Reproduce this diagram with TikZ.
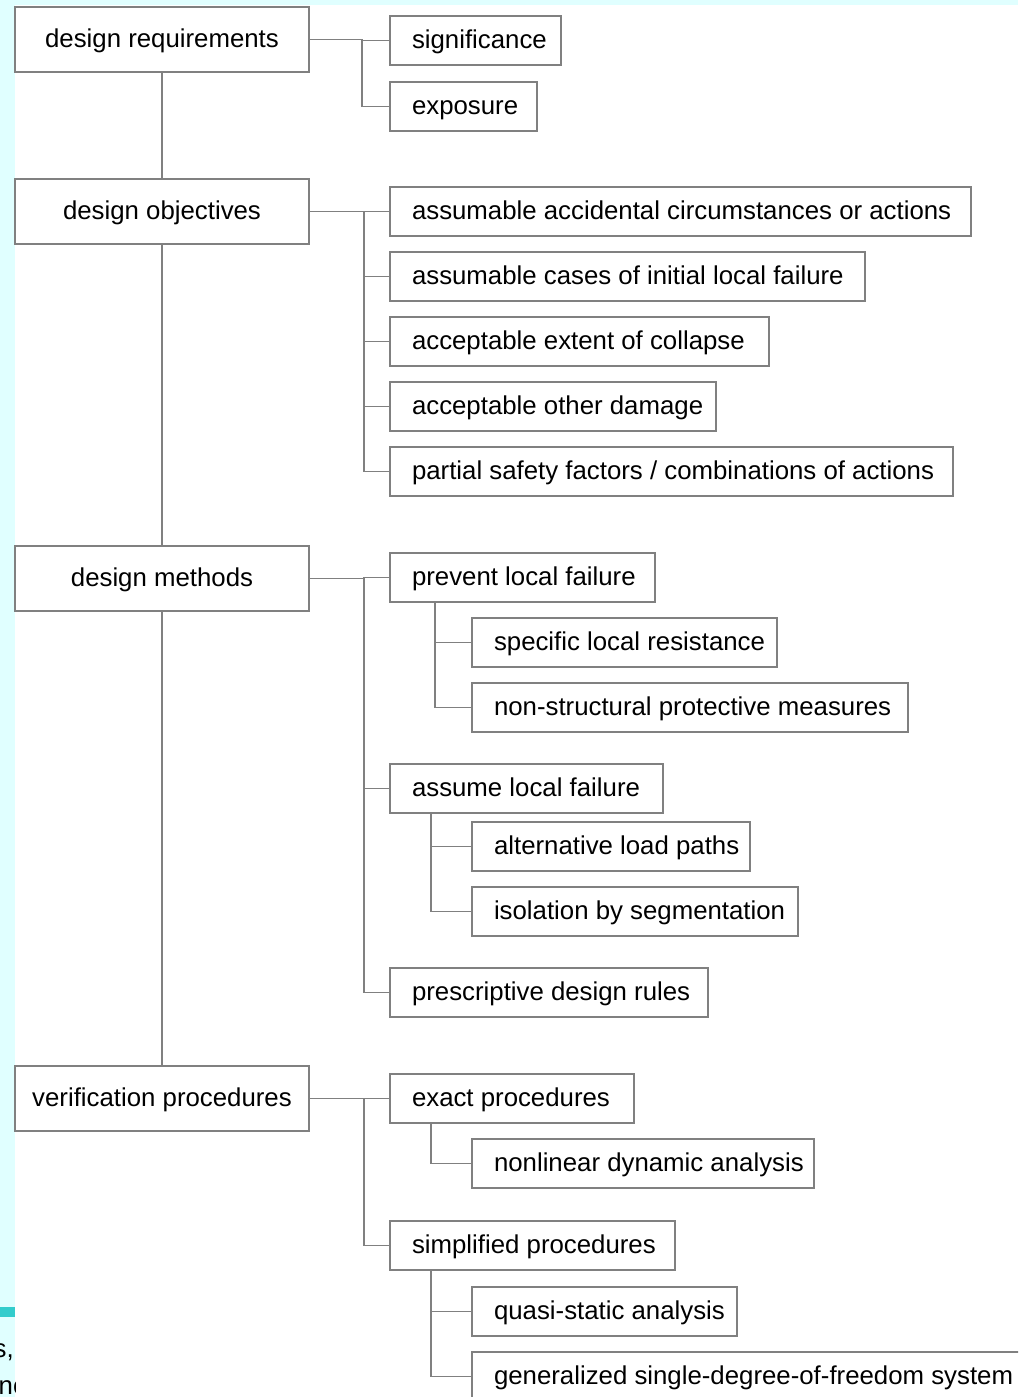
\documentclass[tikz,border=0pt]{standalone}
\usepackage{fontspec}
\setmainfont{Liberation Sans}
\definecolor{bgcyan}{HTML}{E0FFFF}
\definecolor{tealbar}{HTML}{33CCCC}
\definecolor{linegray}{HTML}{808080}
\newcommand{\fsz}{\fontsize{25.8pt}{30pt}\selectfont}
\newcommand{\rbx}[5]{\node[rbox] (#1) at (#2,#3) {\makebox[\dimexpr #4pt-#2pt-44pt\relax][l]{#5}};}
\begin{document}
\begin{tikzpicture}[x=1pt,y=-1pt,
  lbox/.style={draw=linegray, line width=1.2pt, minimum width=294pt, minimum height=65pt,
    anchor=north west, outer sep=0pt, inner sep=0pt, text height=20pt, text depth=4pt, font=\fsz},
  rbox/.style={draw=linegray, line width=1.2pt, minimum height=49pt, anchor=north west,
    outer sep=0pt, inner xsep=22pt, inner ysep=0pt, text height=20pt, text depth=4pt, font=\fsz},
  conn/.style={draw=linegray, line width=1.2pt}]
\useasboundingbox (0,0) rectangle (1018,1397);
\clip (0,0) rectangle (1018,1397);
% background
\fill[bgcyan] (0,0) rectangle (1018,1397);
\fill[white] (15,5.5) rectangle (1018,1397);
\fill[tealbar] (0,1307) rectangle (15,1317);
\begin{scope}
  \clip (0,1318) rectangle (15,1397);
  \node[anchor=base east, inner sep=0pt, font=\fsz] (frag1) at (14,1357) {s,};
  \node[anchor=base west, inner sep=0pt, font=\fsz] (frag2) at (-1.5,1394) {nc};
\end{scope}
% left column
\node[lbox] (dr) at (15,7) {design requirements};
\node[lbox] (do) at (15,179) {design objectives};
\node[lbox] (dm) at (15,546) {design methods};
\node[lbox] (vp) at (15,1066) {verification procedures};
% right boxes
\rbx{sig}{390}{16}{561}{significance}
\rbx{expo}{390}{82}{537}{exposure}
\rbx{aac}{390}{187}{971}{assumable accidental circumstances or actions}
\rbx{acl}{390}{252}{865}{assumable cases of initial local failure}
\rbx{aec}{390}{317}{769}{acceptable extent of collapse}
\rbx{aod}{390}{382}{716}{acceptable other damage}
\rbx{psf}{390}{447}{953}{partial safety factors / combinations of actions}
\rbx{plf}{390}{553}{655}{prevent local failure}
\rbx{slr}{472}{618}{777}{specific local resistance}
\rbx{nsp}{472}{683}{908}{non-structural protective measures}
\rbx{alf}{390}{764}{663}{assume local failure}
\rbx{alp}{472}{822}{750}{alternative load paths}
\rbx{iss}{472}{887}{798}{isolation by segmentation}
\rbx{pdr}{390}{968}{708}{prescriptive design rules}
\rbx{exa}{390}{1074}{634}{exact procedures}
\rbx{nda}{472}{1139}{814}{nonlinear dynamic analysis}
\rbx{spr}{390}{1221}{675}{simplified procedures}
\rbx{qsa}{472}{1287}{737}{quasi-static analysis}
\rbx{gsd}{472}{1352}{1040}{generalized single-degree-of-freedom system}
% trunk
\draw[conn] (dr.south) -- (do.north);
\draw[conn] (do.south) -- (dm.north);
\draw[conn] (dm.south) -- (vp.north);
% buses
\path (dr.east) ++(53pt,0) coordinate (b1);
\draw[conn] (dr.east) -- (b1) |- (sig.west);
\draw[conn] (b1) |- (expo.west);
\path (do.east) ++(55pt,0) coordinate (b2);
\draw[conn] (do.east) -- (b2) |- (aac.west);
\foreach \n in {acl,aec,aod,psf} \draw[conn] (b2) |- (\n.west);
\path (dm.east) ++(55pt,0) coordinate (b3);
\draw[conn] (dm.east) -- (b3) |- (plf.west);
\foreach \n in {alf,pdr} \draw[conn] (b3) |- (\n.west);
\path (vp.east) ++(55pt,0) coordinate (b4);
\draw[conn] (vp.east) -- (b4) |- (exa.west);
\draw[conn] (b4) |- (spr.west);
% sub-buses
\draw[conn] ([xshift=45pt]plf.south west) |- (slr.west);
\draw[conn] ([xshift=45pt]plf.south west) |- (nsp.west);
\draw[conn] ([xshift=41pt]alf.south west) |- (alp.west);
\draw[conn] ([xshift=41pt]alf.south west) |- (iss.west);
\draw[conn] ([xshift=41pt]exa.south west) |- (nda.west);
\draw[conn] ([xshift=41pt]spr.south west) |- (qsa.west);
\draw[conn] ([xshift=41pt]spr.south west) |- (gsd.west);
\end{tikzpicture}
\end{document}
